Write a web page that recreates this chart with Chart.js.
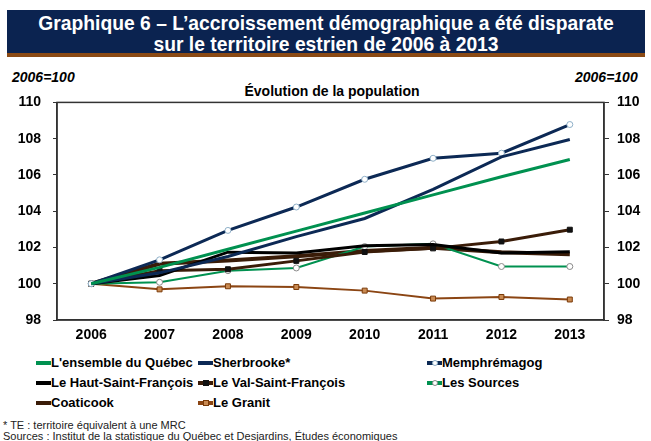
<!DOCTYPE html>
<html>
<head>
<meta charset="utf-8">
<script src="https://cdn.jsdelivr.net/npm/chart.js@4.4.0/dist/chart.umd.min.js"></script>
<style>
  body { margin: 0; width: 651px; height: 441px; background: #fff; position: relative; overflow: hidden;
         font-family: Arial, "Liberation Sans", sans-serif; }
  #banner { position: absolute; left: 7px; top: 10px; width: 638px; height: 47px; background: #0b2350;
            border-bottom: 4px solid #8b4a14; color: #fff; font-weight: bold; font-size: 19.3px;
            text-align: center; line-height: 21px; padding-top: 3px; box-sizing: border-box; }
  .base { position: absolute; top: 69px; font-size: 14px; font-weight: bold; font-style: italic; }
  #subtitle { position: absolute; top: 83px; left: 0; width: 664px; text-align: center; font-size: 14px; font-weight: bold; }
  #chartBox { position: absolute; left: 0; top: 82px; width: 651px; height: 263px; }
  #legend { position: absolute; left: 0; top: 353px; width: 651px; }
  .item { position: absolute; font-size: 13px; font-weight: bold; height: 20px; line-height: 20px; white-space: nowrap; }
  .sample { position: absolute; left: 0; top: 8px; width: 15px; height: 4px; }
  .mark { position: absolute; left: 5px; top: -1px; width: 6px; height: 6px; box-sizing: border-box; }
  .label { position: absolute; left: 15px; top: 0; }
  .note { position: absolute; left: 3px; font-size: 11px; color: #222; }
</style>
</head>
<body>
<div id="banner">Graphique 6 – L’accroissement démographique a été disparate<br>sur le territoire estrien de 2006 à 2013</div>
<div class="base" style="left:12px">2006=100</div>
<div class="base" style="left:575px">2006=100</div>
<div id="subtitle">Évolution de la population</div>
<div id="chartBox"><canvas id="popChart"></canvas></div>
<div id="legend"></div>
<div class="note" style="top:419px">* TE : territoire équivalent à une MRC</div>
<div class="note" style="top:430px">Sources : Institut de la statistique du Québec et Desjardins, Études économiques</div>
<script>
// Évolution de la population, indice 2006=100

const years = ['2006', '2007', '2008', '2009', '2010', '2011', '2012', '2013'];
const quebec = [100, 100.9, 101.9, 102.9, 103.9, 104.9, 105.9, 106.85];
const sherbrooke = [100, 100.6, 101.5, 102.6, 103.6, 105.2, 107.0, 107.95];
const memphremagog = [100, 101.32, 102.94, 104.23, 105.76, 106.92, 107.2, 108.78];
const hautStFrancois = [100, 100.45, 101.74, 101.7, 102.1, 102.16, 101.7, 101.77];
const valStFrancois = [100, 100.72, 100.8, 101.26, 101.75, 101.95, 102.33, 102.98];
const lesSources = [100, 100.08, 100.72, 100.87, 102.05, 102.2, 100.95, 100.95];
const coaticook = [100, 101.1, 101.28, 101.52, 101.8, 101.98, 101.74, 101.63];
const granit = [100, 99.69, 99.86, 99.82, 99.62, 99.18, 99.27, 99.13];
const yTicks = [98, 100, 102, 104, 106, 108, 110];

const FONT = 'Arial, "Liberation Sans", sans-serif';

function series(label, data, color, width, marker) {
    const ds = {
        label: label,
        data: data,
        borderColor: color,
        backgroundColor: color,
        borderWidth: width,
        tension: 0,
        pointRadius: 0,
        pointHoverRadius: 0,
        yAxisID: 'y'
    };
    if (marker) {
        ds.pointStyle = marker.style;
        ds.pointRadius = marker.radius;
        ds.pointBackgroundColor = marker.fill;
        ds.pointBorderColor = marker.border;
        ds.pointBorderWidth = 1;
    }
    return ds;
}

const datasets = [
    series("L'ensemble du Québec", quebec, '#009150', 3),
    series('Sherbrooke*', sherbrooke, '#0c2955', 3),
    series('Memphrémagog', memphremagog, '#0c2955', 3, { style: 'circle', radius: 3, fill: '#ffffff', border: '#8fb0c8' }),
    series('Le Haut-Saint-François', hautStFrancois, '#000000', 3),
    series('Le Val-Saint-François', valStFrancois, '#3a1c08', 3, { style: 'rect', radius: 3.5, fill: '#111111', border: '#111111' }),
    series('Les Sources', lesSources, '#009150', 2, { style: 'circle', radius: 3, fill: '#ffffff', border: '#8a8a8a' }),
    series('Coaticook', coaticook, '#3a1c08', 4),
    series('Le Granit', granit, '#8b4513', 2, { style: 'rect', radius: 3.5, fill: '#c98a52', border: '#7a3a08' })
];

// legend, three columns like the original
const legendPos = [
    [36, 0], [198, 0], [427, 0],
    [36, 20], [198, 20], [427, 20],
    [36, 40], [198, 40]
];
const legend = document.getElementById('legend');
datasets.forEach((ds, i) => {
    const item = document.createElement('div');
    item.className = 'item';
    item.style.left = legendPos[i][0] + 'px';
    item.style.top = legendPos[i][1] + 'px';
    let mark = '';
    if (ds.pointStyle) {
        const round = ds.pointStyle === 'circle' ? 'border-radius:50%;' : '';
        mark = `<span class="mark" style="background:${ds.pointBackgroundColor};border:1px solid ${ds.pointBorderColor};${round}"></span>`;
    }
    item.innerHTML = `<span class="sample" style="background:${ds.borderColor}">${mark}</span><span class="label">${ds.label}</span>`;
    legend.appendChild(item);
});

const framePlugin = {
    id: 'frame',
    beforeDatasetsDraw(chart) {
        const a = chart.chartArea;
        const ctx = chart.ctx;
        ctx.save();
        ctx.strokeStyle = '#333333';
        ctx.lineWidth = 1.5;
        ctx.strokeRect(a.left, a.top, a.right - a.left, a.bottom - a.top);
        ctx.restore();
    }
};

const tickFont = { family: FONT, size: 14, weight: 'bold' };

new Chart(document.getElementById('popChart'), {
    type: 'line',
    data: { labels: years, datasets: datasets },
    options: {
        responsive: true,
        maintainAspectRatio: false,
        animation: false,
        layout: { padding: 0 },
        plugins: { legend: { display: false }, tooltip: { enabled: false } },
        scales: {
            x: {
                offset: true,
                grid: { display: false, drawTicks: false },
                border: { color: '#333333', width: 1.5 },
                ticks: { color: '#000', font: tickFont, padding: 7 },
                afterFit(scale) { scale.height = 25; }
            },
            y: {
                position: 'left',
                min: 98, max: 110,
                afterBuildTicks(scale) { scale.ticks = yTicks.map(v => ({ value: v })); },
                grid: { drawOnChartArea: false, drawTicks: true, tickLength: 4, color: '#333333' },
                border: { color: '#333333', width: 1.5 },
                ticks: { color: '#000', font: tickFont, padding: 12 },
                afterFit(scale) { scale.width = 57; }
            },
            y1: {
                position: 'right',
                min: 98, max: 110,
                afterBuildTicks(scale) { scale.ticks = yTicks.map(v => ({ value: v })); },
                grid: { drawOnChartArea: false, drawTicks: true, tickLength: 5, color: '#333333' },
                border: { color: '#333333', width: 1.5 },
                ticks: { color: '#000', font: tickFont, padding: 8 },
                afterFit(scale) { scale.width = 47; }
            }
        }
    },
    plugins: [framePlugin]
});
</script>
</body>
</html>
